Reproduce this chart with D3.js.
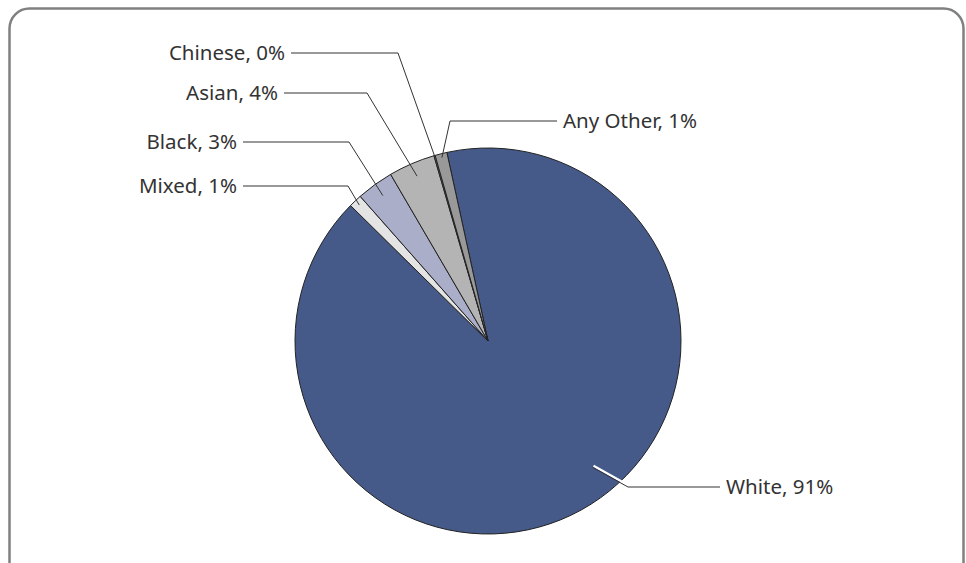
<!DOCTYPE html>
<html>
<head>
<meta charset="utf-8">
<script src="https://cdn.jsdelivr.net/npm/d3@7"></script>
<style>
  body { margin: 0; background: #fff; }
  svg text { font-family: "Noto Sans", "Lato", sans-serif; font-size: 20.5px; fill: #333; }
</style>
</head>
<body>
<div id="chart"></div>
<script>
// ethnic groups, clockwise order as in the chart
var categories = ["White", "Mixed", "Black", "Asian", "Chinese", "Any Other"];
var values = [90.8, 1.1, 3.1, 3.9, 0.1, 1.0];
var colors = ["#465a89", "#e4e4e4", "#abaec9", "#b4b4b4", "#8a8a8a", "#999999"];

// label placement (layout only): text anchor x, line y, elbow x, text side
// t = where along the slice the leader ends, rf = radius fraction
var labelLayout = [
    {tx: 726, y: 487, ex: 628, side: "right", t: 0.467, rf: 0.85},
    {tx: 237, y: 186, ex: 348, side: "left", t: 0.5, rf: 0.97},
    {tx: 237, y: 142, ex: 349, side: "left", t: 0.5, rf: 0.93},
    {tx: 278, y: 93, ex: 367, side: "left", t: 0.5, rf: 0.93},
    {tx: 285, y: 53, ex: 398, side: "left", t: 0.5, rf: 0.99},
    {tx: 563, y: 121, ex: 450, side: "right", t: 0.5, rf: 0.98}
];

var width = 966, height = 563;
var cx = 488, cy = 341, radius = 193;

var svg = d3.select("#chart").append("svg")
    .attr("width", width)
    .attr("height", height);

// frame
svg.append("rect")
    .attr("x", 9.5)
    .attr("y", 8.5)
    .attr("width", 954)
    .attr("height", 600)
    .attr("rx", 20)
    .attr("fill", "none")
    .attr("stroke", "#808080")
    .attr("stroke-width", 2.5);

var data = categories.map(function(c, i) { return {name: c, value: values[i], color: colors[i], lay: labelLayout[i]}; });

var start = -12.3 * Math.PI / 180;
var pie = d3.pie().sort(null).value(function(d) { return d.value; })
    .startAngle(start).endAngle(start + 2 * Math.PI);
var arcs = pie(data);

var arc = d3.arc().innerRadius(0).outerRadius(radius);

var g = svg.append("g").attr("transform", "translate(" + cx + "," + cy + ")");

g.selectAll("path.slice")
    .data(arcs)
    .enter()
    .append("path")
    .attr("class", "slice")
    .attr("d", arc)
    .attr("fill", function(d) { return d.data.color; })
    .attr("stroke", "#222")
    .attr("stroke-width", 1);

// leader lines + labels
arcs.forEach(function(a, i) {
    var lay = a.data.lay;
    var ang = a.startAngle + (a.endAngle - a.startAngle) * lay.t;
    var r = radius * lay.rf;
    var ax = cx + Math.sin(ang) * r;
    var ay = cy - Math.cos(ang) * r;
    var lineEnd = lay.side === "left" ? lay.tx + 6 : lay.tx - 6;

    if (i === 0) {
        // white halo on the part that sits inside the slice
        var dx = lay.ex - ax, dy = lay.y - ay;
        var len = Math.sqrt(dx * dx + dy * dy);
        var nx = dy / len * 1.7, ny = -dx / len * 1.7;
        svg.append("line")
            .attr("x1", ax + nx).attr("y1", ay + ny)
            .attr("x2", lay.ex + nx).attr("y2", lay.y + ny)
            .attr("stroke", "#fff")
            .attr("stroke-width", 2.2);
    }

    svg.append("polyline")
        .attr("points", [[ax, ay], [lay.ex, lay.y], [lineEnd, lay.y]].map(function(p) { return p.join(","); }).join(" "))
        .attr("fill", "none")
        .attr("stroke", "#333")
        .attr("stroke-width", 1);

    svg.append("text")
        .attr("x", lay.tx)
        .attr("y", lay.y)
        .attr("dy", "0.35em")
        .attr("text-anchor", lay.side === "left" ? "end" : "start")
        .text(a.data.name + ", " + Math.round(a.data.value) + "%");
});
</script>
</body>
</html>
